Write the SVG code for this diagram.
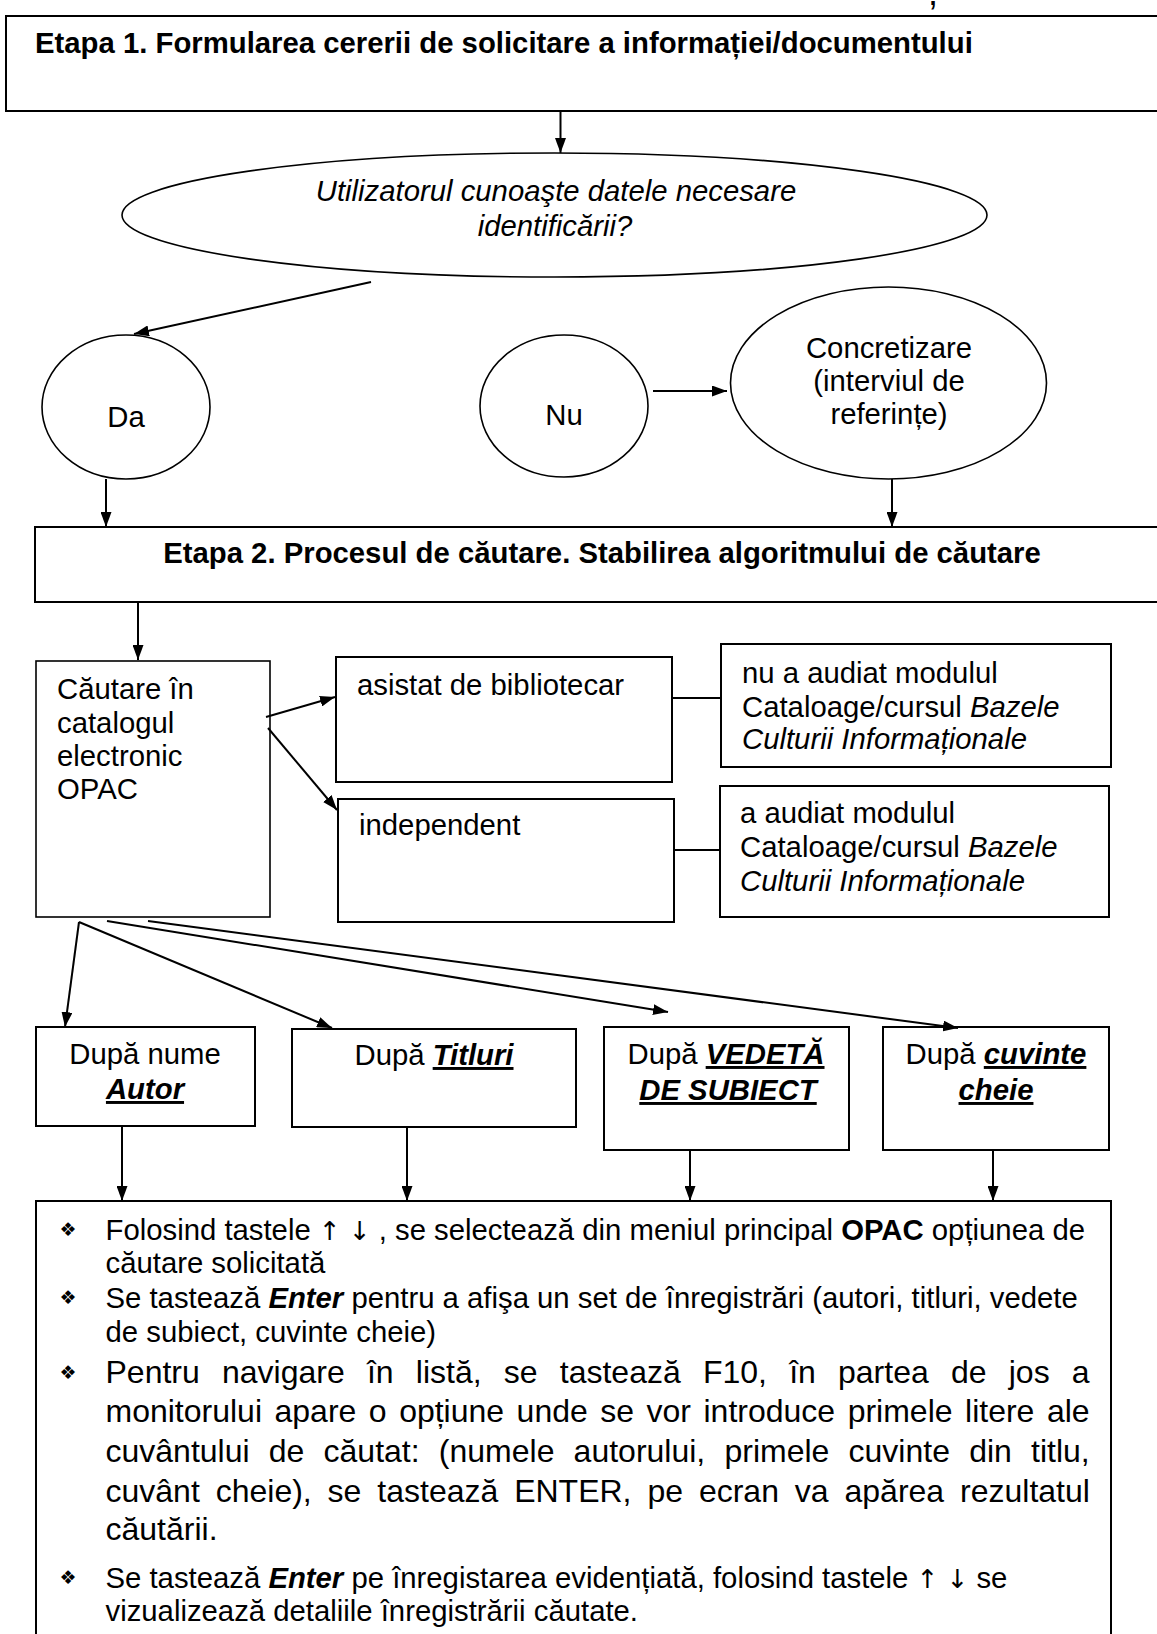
<svg xmlns="http://www.w3.org/2000/svg" width="1157" height="1634" viewBox="0 0 1157 1634">
  <defs>
    <marker id="ah" markerUnits="userSpaceOnUse" markerWidth="15" markerHeight="11" refX="15" refY="5.5" orient="auto">
      <path d="M0,0 L15,5.5 L0,11 z" fill="#000"/>
    </marker>
  </defs>
  <style>
    .box { fill: #fff; stroke: #000; stroke-width: 2; }
    .thin { stroke-width: 1.6; }
    .ell { fill: #fff; stroke: #000; stroke-width: 1.6; }
    .t { font-family: "Liberation Sans", Arial, sans-serif; font-size: 29.3px; fill: #000; }
    .p { font-size: 32px; }
    .b { font-weight: bold; }
    .i { font-style: italic; }
    .u { text-decoration: underline; }
    .mid { text-anchor: middle; }
    .bul { font-family: "DejaVu Sans", sans-serif; font-size: 19px; fill: #000; text-anchor: middle; }
    .ar { font-family: "DejaVu Sans", sans-serif; font-size: 26px; }
    .c { stroke: #000; stroke-width: 2; fill: none; }
    .a { marker-end: url(#ah); }
  </style>
  <rect width="1157" height="1634" fill="#fff"/>

  <!-- stray comma from the line above the page edge -->
  <text class="t" x="928" y="5" style="font-size:36px">,</text>

  <g id="etapa1">
    <rect class="box" x="6" y="16" width="1170" height="95"/>
    <text class="t b" x="35" y="53">Etapa 1. Formularea cererii de solicitare a informației/documentului</text>
  </g>

  <g id="intrebare">
    <ellipse class="ell" cx="554.5" cy="215" rx="432.5" ry="62"/>
    <text class="t i mid" x="556" y="201">Utilizatorul cunoaşte datele necesare</text>
    <text class="t i mid" x="555" y="236">identificării?</text>
  </g>

  <g id="da">
    <ellipse class="ell" cx="126" cy="407" rx="84" ry="72"/>
    <text class="t mid" x="126" y="427">Da</text>
  </g>

  <g id="nu">
    <ellipse class="ell" cx="564" cy="406" rx="84" ry="71"/>
    <text class="t mid" x="564" y="425">Nu</text>
  </g>

  <g id="concretizare">
    <ellipse class="ell" cx="888.5" cy="383" rx="158" ry="96"/>
    <text class="t mid" x="889" y="358">Concretizare</text>
    <text class="t mid" x="889" y="391">(interviul de</text>
    <text class="t mid" x="889" y="424">referințe)</text>
  </g>

  <g id="etapa2">
    <rect class="box" x="35" y="527" width="1140" height="75"/>
    <text class="t b mid" x="602" y="563">Etapa 2. Procesul de căutare. Stabilirea algoritmului de căutare</text>
  </g>

  <g id="cautare">
    <rect class="box thin" x="36" y="661" width="234" height="256"/>
    <text class="t" x="57" y="699">Căutare în</text>
    <text class="t" x="57" y="733">catalogul</text>
    <text class="t" x="57" y="766">electronic</text>
    <text class="t" x="57" y="799">OPAC</text>
  </g>

  <g id="asistat">
    <rect class="box" x="336" y="657" width="336" height="125"/>
    <text class="t" x="357" y="695">asistat de bibliotecar</text>
  </g>

  <g id="independent">
    <rect class="box" x="338" y="799" width="336" height="123"/>
    <text class="t" x="359" y="835">independent</text>
  </g>

  <g id="nu-audiat">
    <rect class="box" x="721" y="644" width="390" height="123"/>
    <text class="t" x="742" y="683">nu a audiat modulul</text>
    <text class="t" x="742" y="717">Cataloage/cursul <tspan class="i">Bazele</tspan></text>
    <text class="t i" x="742" y="749">Culturii Informaționale</text>
  </g>

  <g id="a-audiat">
    <rect class="box" x="720" y="786" width="389" height="131"/>
    <text class="t" x="740" y="823">a audiat modulul</text>
    <text class="t" x="740" y="857">Cataloage/cursul <tspan class="i">Bazele</tspan></text>
    <text class="t i" x="740" y="891">Culturii Informaționale</text>
  </g>

  <g id="autor">
    <rect class="box" x="36" y="1027" width="219" height="99"/>
    <text class="t mid" x="145" y="1064">După nume</text>
    <text class="t b i u mid" x="145" y="1099">Autor</text>
  </g>

  <g id="titluri">
    <rect class="box" x="292" y="1029" width="284" height="98"/>
    <text class="t mid" x="434" y="1065">După <tspan class="b i u">Titluri</tspan></text>
  </g>

  <g id="vedeta">
    <rect class="box" x="604" y="1027" width="245" height="123"/>
    <text class="t mid" x="726" y="1064">După <tspan class="b i u">VEDETĂ</tspan></text>
    <text class="t b i u mid" x="728" y="1100">DE SUBIECT</text>
  </g>

  <g id="cuvinte">
    <rect class="box" x="883" y="1027" width="226" height="123"/>
    <text class="t mid" x="996" y="1064">După <tspan class="b i u">cuvinte</tspan></text>
    <text class="t b i u mid" x="996" y="1100">cheie</text>
  </g>

  <g id="instructiuni">
    <rect class="box" x="36" y="1201" width="1075" height="460"/>
    <text class="bul" x="68" y="1236">❖</text>
    <text class="t" x="105.5" y="1240">Folosind tastele <tspan class="ar">↑</tspan> <tspan class="ar">↓</tspan> , se selectează din meniul principal <tspan class="b">OPAC</tspan> opțiunea de</text>
    <text class="t" x="105.5" y="1273">căutare solicitată</text>
    <text class="bul" x="68" y="1304">❖</text>
    <text class="t" x="105.5" y="1308">Se tastează <tspan class="b i">Enter</tspan> pentru a afişa un set de înregistrări (autori, titluri, vedete</text>
    <text class="t" x="105.5" y="1342">de subiect, cuvinte cheie)</text>
    <text class="bul" x="68" y="1379">❖</text>
    <text class="t p" x="105.5" y="1383" style="word-spacing:13.3px">Pentru navigare în listă, se tastează F10, în partea de jos a</text>
    <text class="t p" x="105.5" y="1422" style="word-spacing:3.6px">monitorului apare o opțiune unde se vor introduce primele litere ale</text>
    <text class="t p" x="105.5" y="1462" style="word-spacing:10.3px">cuvântului de căutat: (numele autorului, primele cuvinte din titlu,</text>
    <text class="t p" x="105.5" y="1502" style="word-spacing:7px">cuvânt cheie), se tastează ENTER, pe ecran va apărea rezultatul</text>
    <text class="t p" x="105.5" y="1540">căutării.</text>
    <text class="bul" x="68" y="1584">❖</text>
    <text class="t" x="105.5" y="1588">Se tastează <tspan class="b i">Enter</tspan> pe înregistarea evidențiată, folosind tastele <tspan class="ar">↑</tspan> <tspan class="ar">↓</tspan> se</text>
    <text class="t" x="105.5" y="1621">vizualizează detaliile înregistrării căutate.</text>
  </g>

  <g id="connectors">
    <line class="c a" x1="560.5" y1="111" x2="560.5" y2="153"/>
    <line class="c a" x1="371" y1="282" x2="134" y2="334"/>
    <line class="c a" x1="653" y1="391" x2="727" y2="391"/>
    <line class="c a" x1="106" y1="479" x2="106" y2="527"/>
    <line class="c a" x1="892" y1="479" x2="892" y2="527"/>
    <line class="c a" x1="138" y1="602" x2="138" y2="660"/>
    <line class="c a" x1="266" y1="717" x2="335" y2="697"/>
    <line class="c a" x1="268" y1="728" x2="337" y2="810"/>
    <line class="c" x1="672" y1="698" x2="721" y2="698"/>
    <line class="c" x1="674" y1="850" x2="720" y2="850"/>
    <line class="c a" x1="79" y1="922" x2="65" y2="1027"/>
    <line class="c a" x1="79" y1="922" x2="332" y2="1028"/>
    <line class="c a" x1="107" y1="921" x2="668" y2="1012"/>
    <line class="c a" x1="148" y1="921" x2="958" y2="1028"/>
    <line class="c a" x1="122" y1="1126" x2="122" y2="1201"/>
    <line class="c a" x1="407" y1="1127" x2="407" y2="1201"/>
    <line class="c a" x1="690" y1="1150" x2="690" y2="1201"/>
    <line class="c a" x1="993" y1="1150" x2="993" y2="1201"/>
  </g>
</svg>
